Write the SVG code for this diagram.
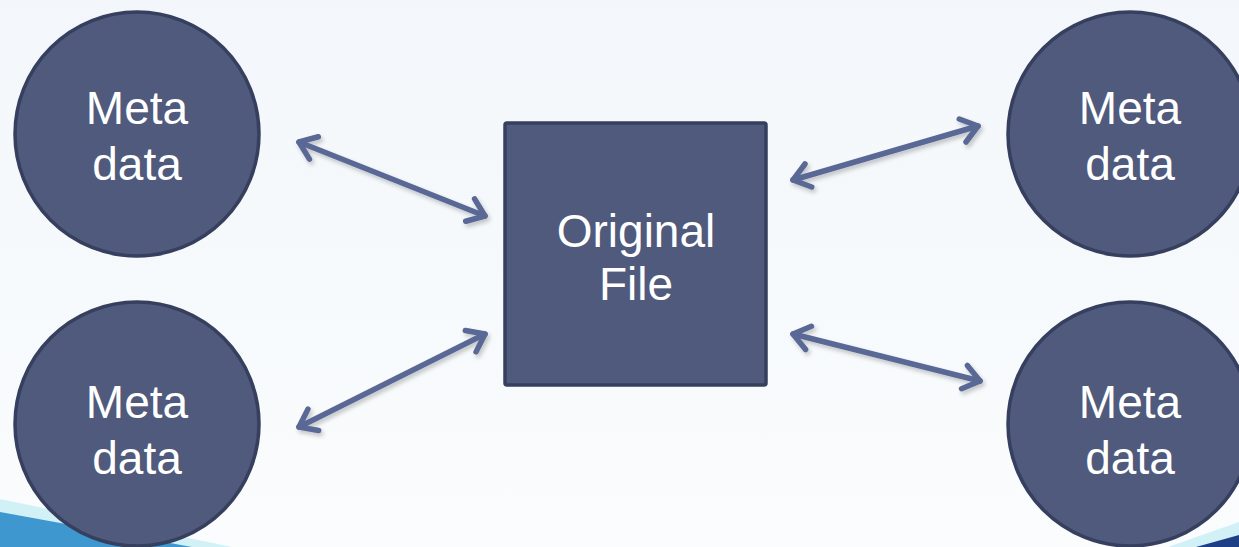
<svg xmlns="http://www.w3.org/2000/svg" width="1239" height="547" viewBox="0 0 1239 547">
  <defs>
    <linearGradient id="bg" x1="0" y1="0" x2="0" y2="1">
      <stop offset="0" stop-color="#f3f7fb"/>
      <stop offset="1" stop-color="#fafcfd"/>
    </linearGradient>
    <filter id="shadow" x="-10%" y="-20%" width="130%" height="150%">
      <feDropShadow dx="2" dy="3" stdDeviation="2" flood-color="#000000" flood-opacity="0.22"/>
    </filter>
    <marker id="head" markerUnits="userSpaceOnUse" viewBox="-22 -15 26 30" markerWidth="26" markerHeight="30" refX="0" refY="0" orient="auto-start-reverse">
      <path d="M-16,-12 L0,0 L-16,12" fill="none" stroke="#5a6796" stroke-width="5.5" stroke-linecap="round" stroke-linejoin="round"/>
    </marker>
  </defs>
  <style>
    .node { fill: #4f5a7c; stroke: #363f5e; stroke-width: 3.5; }
    .label { fill: #ffffff; font-family: "Liberation Sans", Arial, sans-serif; font-size: 46px; text-anchor: middle; }
    .link { fill: none; stroke: #5a6796; stroke-width: 5.5; stroke-linecap: round; marker-start: url(#head); marker-end: url(#head); }
  </style>

  <!-- background -->
  <rect width="1239" height="547" fill="url(#bg)"/>

  <!-- corner swooshes -->
  <polygon points="0,499 0,547 232,547" fill="#d2f1f7"/>
  <polygon points="0,512 0,547 192,547" fill="#3f97cf"/>
  <polygon points="1168,547 1239,522 1239,547" fill="#d2f1f7"/>
  <polygon points="1196,547 1239,535 1239,547" fill="#1e3f86"/>

  <!-- connectors -->
  <g id="connectors" filter="url(#shadow)">
    <line class="link" x1="299" y1="142" x2="485" y2="216"/>
    <line class="link" x1="299" y1="427" x2="485" y2="334"/>
    <line class="link" x1="793" y1="180" x2="978" y2="126"/>
    <line class="link" x1="793" y1="334" x2="980" y2="381"/>
  </g>

  <!-- metadata nodes -->
  <g id="meta-top-left">
    <circle class="node" cx="137" cy="134" r="122"/>
    <text class="label" x="137" y="124">Meta</text>
    <text class="label" x="137" y="180">data</text>
  </g>
  <g id="meta-bottom-left">
    <circle class="node" cx="137" cy="424" r="122"/>
    <text class="label" x="137" y="418">Meta</text>
    <text class="label" x="137" y="474">data</text>
  </g>
  <g id="meta-top-right">
    <circle class="node" cx="1130" cy="134" r="122"/>
    <text class="label" x="1130" y="124">Meta</text>
    <text class="label" x="1130" y="180">data</text>
  </g>
  <g id="meta-bottom-right">
    <circle class="node" cx="1130" cy="424" r="122"/>
    <text class="label" x="1130" y="418">Meta</text>
    <text class="label" x="1130" y="474">data</text>
  </g>

  <!-- central file node -->
  <g id="original-file">
    <rect class="node" x="505" y="123" width="261" height="262" rx="2" stroke-width="4"/>
    <text class="label" x="636" y="247">Original</text>
    <text class="label" x="636" y="300">File</text>
  </g>
</svg>
